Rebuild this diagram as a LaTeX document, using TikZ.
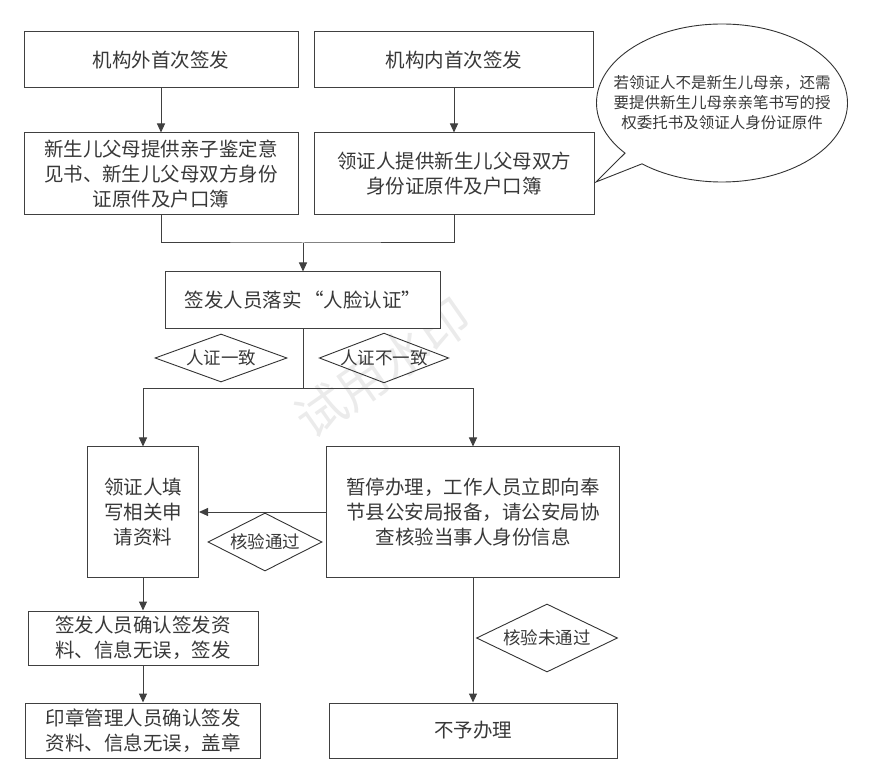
\documentclass[tikz,border=0pt]{standalone}
\usepackage{fontspec}
\setmainfont{Noto Sans CJK SC}
\usetikzlibrary{arrows.meta}
\usetikzlibrary{shapes.geometric}
\usetikzlibrary{shapes.callouts}
\tikzstyle{box}=[draw=black!75, line width=1pt, fill=white, inner sep=0pt, align=center, text=black!78, font=\fontsize{19.5}{25}\selectfont]
\tikzstyle{decision}=[diamond, draw=black!80, line width=0.9pt, inner sep=0pt, text=black!78, font=\fontsize{17.5}{20}\selectfont]
\tikzstyle{bubble}=[ellipse callout, draw=black!80, line width=0.9pt, fill=white, inner sep=0pt]
\tikzstyle{notetext}=[align=center, inner sep=0pt, text=black!78, font=\fontsize{15.5}{20}\selectfont]
\tikzstyle{line}=[draw=black!75, line width=1pt]
\tikzstyle{link}=[line, -{Triangle[length=9pt,width=8pt]}]

\begin{document}
\begin{tikzpicture}[x=1pt, y=-1pt]
  \useasboundingbox (0,0) rectangle (873,783);
  \node[text=black!8, font=\fontsize{50}{50}\selectfont, rotate=35] (mark) at (383,368) {试用水印};

  % first issue
  \node[box, minimum width=274, minimum height=56] (outside) at (161,60) {机构外首次签发};
  \node[box, minimum width=279, minimum height=56] (inside) at (454,60) {机构内首次签发};
  \node[box, minimum width=274, minimum height=82] (parents) at (161,174)
    {新生儿父母提供亲子鉴定意\\见书、新生儿父母双方身份\\证原件及户口簿};
  \node[box, minimum width=280, minimum height=82] (holder) at (454,174)
    {领证人提供新生儿父母双方\\身份证原件及户口簿};
  \node[bubble, minimum width=251, minimum height=158, callout pointer arc=11,
    callout absolute pointer={(596,182)}] (note) at (722,103) {};
  \node[notetext] (notetext) at (note.center)
    {若领证人不是新生儿母亲，还需\\要提供新生儿母亲亲笔书写的授\\权委托书及领证人身份证原件};
  \draw[link] (outside) -- (parents);
  \draw[link] (inside) -- (holder);

  % face check
  \coordinate (join) at (303,243);
  \node[box, minimum width=275, minimum height=57] (face) at (303,300.5) {签发人员落实\hspace{3pt}“人脸认证”};
  \draw[line] (parents.south) |- (join) -| (holder.south);
  \draw[link] (join) -- (face.north);
  \coordinate (split) at (303,389);
  \draw[line] (face.south) -- (split);
  \node[decision, minimum width=132, minimum height=48, aspect=2.7] (same) at (221,358) {人证一致};
  \node[decision, minimum width=126, minimum height=48, aspect=2.6] (differ) at (384,358) {人证不一致};

  \node[box, minimum width=111, minimum height=130] (fill) at (143,512) {领证人填\\写相关申\\请资料};
  \node[box, minimum width=293, minimum height=130] (report) at (473,512)
    {暂停办理，工作人员立即向奉\\节县公安局报备，请公安局协\\查核验当事人身份信息};
  \draw[link] (split) -| (fill.north);
  \draw[link] (split) -| (report.north);
  \draw[link] (report.west) -- (fill.east);
  \node[decision, minimum width=114, minimum height=58, aspect=2] (pass) at (265,542) {核验通过};

  % issue and seal
  \node[box, minimum width=230, minimum height=54] (sign) at (143,638) {签发人员确认签发资\\料、信息无误，签发};
  \node[box, minimum width=235, minimum height=55] (seal) at (143,730.5) {印章管理人员确认签发\\资料、信息无误，盖章};
  \node[box, minimum width=288, minimum height=55] (refuse) at (473,730.5) {不予办理};
  \draw[link] (fill) -- (sign);
  \draw[link] (sign) -- (seal);
  \draw[link] (report) -- (refuse);
  \node[decision, minimum width=141, minimum height=68, aspect=2.1] (fail) at (547,638) {核验未通过};
\end{tikzpicture}
\end{document}
